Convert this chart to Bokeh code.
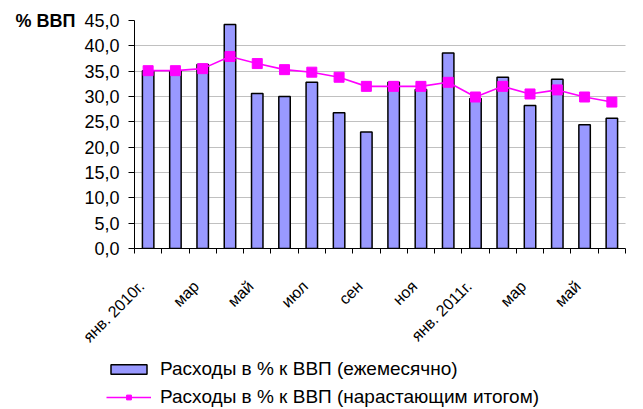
import math
from bokeh.plotting import figure
from bokeh.models import (Range1d, FixedTicker, CustomJSTickFormatter, Legend,
                          LegendItem, LinearAxis, ColumnDataSource)
from bokeh.embed import file_html
from bokeh.resources import INLINE

# ---- data ----
months = ["янв. 2010г.", "фев", "мар", "апр", "май", "июн", "июл", "авг", "сен",
          "окт", "ноя", "дек", "янв. 2011г.", "фев", "мар", "апр", "май", "июн"]
monthly = [35.1, 35.0, 36.3, 44.2, 30.6, 30.0, 32.8, 26.8, 23.0,
           32.8, 31.4, 38.6, 29.6, 33.8, 28.2, 33.4, 24.4, 25.7]
cumulative = [35.1, 35.1, 35.5, 37.9, 36.5, 35.3, 34.8, 33.8, 32.0,
              32.0, 32.0, 32.8, 29.9, 32.0, 30.5, 31.3, 29.9, 28.9]
y_ticks = [0, 5, 10, 15, 20, 25, 30, 35, 40, 45]
series_names = ["Расходы в % к ВВП (ежемесячно)",
                "Расходы в % к ВВП (нарастающим итогом)"]
y_unit = "% ВВП"

FONT = "Liberation Sans"
BAR_FILL = "#9999FF"
LINE_COL = "#FF00FF"
idx = list(range(len(months)))
src = ColumnDataSource(dict(x=idx, m=monthly, c=cumulative))

p = figure(width=627, height=354, output_backend="svg", toolbar_location=None,
           x_range=Range1d(-0.5, len(months) - 0.5), y_range=Range1d(0, 45),
           min_border_left=134, min_border_right=2, min_border_top=20,
           min_border_bottom=105)
p.outline_line_color = None
p.background_fill_color = "white"
p.border_fill_color = "white"

p.vbar(x="x", top="m", width=0.42, source=src, fill_color=BAR_FILL,
       line_color="black", line_width=1.5)
p.line(x="x", y="c", source=src, line_color=LINE_COL, line_width=1.6)
p.scatter(x="x", y="c", source=src, marker="square", size=10,
          fill_color=LINE_COL, line_color=LINE_COL)

# grid
p.xgrid.grid_line_color = None
p.ygrid.grid_line_color = "#808080"
p.ygrid.grid_line_dash = "1 1"
p.ygrid.grid_line_width = 1
p.ygrid.ticker = FixedTicker(ticks=y_ticks)

# y axis
ya = p.yaxis[0]
ya.ticker = FixedTicker(ticks=y_ticks)
ya.formatter = CustomJSTickFormatter(code="return tick.toFixed(1).replace('.', ',');")
ya.major_label_text_font = FONT
ya.major_label_text_font_size = "18px"
ya.major_label_text_color = "black"
ya.major_tick_out = 6
ya.major_tick_in = 0
ya.minor_tick_out = 0
ya.minor_tick_in = 0
ya.major_label_standoff = 9
ya.axis_line_color = "black"

# unit caption as an extra (invisible-line) axis with a single tick at the top
ua = LinearAxis(ticker=FixedTicker(ticks=[y_ticks[-1]]),
                formatter=CustomJSTickFormatter(args=dict(t=y_unit), code="return t;"),
                axis_line_color=None, major_tick_line_color=None,
                minor_tick_line_color=None, major_tick_out=0, major_tick_in=0,
                minor_tick_out=0, minor_tick_in=0, major_label_standoff=6,
                major_label_text_font=FONT, major_label_text_font_style="bold",
                major_label_text_font_size="18px", major_label_text_color="black")
p.add_layout(ua, "left")

# x axis: tick marks at month boundaries, labels for every other month
boundaries = [i - 0.5 for i in range(len(months) + 1)]
label_pos = [i - 0.24 for i in range(0, len(months), 2)]
xa = p.xaxis[0]
xa.ticker = FixedTicker(ticks=label_pos, minor_ticks=boundaries)
xa.formatter = CustomJSTickFormatter(args=dict(labels=months), code="""
const i = Math.round(tick);
return (i >= 0 && i < labels.length) ? labels[i] : '';
""")
xa.major_label_orientation = math.pi / 4
xa.major_label_text_font = FONT
xa.major_label_text_font_size = "16px"
xa.major_label_text_color = "black"
xa.major_tick_out = 0
xa.major_tick_in = 0
xa.major_tick_line_color = None
xa.minor_tick_out = 5
xa.minor_tick_in = 0
xa.minor_tick_line_color = "black"
xa.major_label_standoff = 30
xa.axis_line_color = "black"

# ---- legend in its own strip below the chart (separate root, no frame alignment) ----
lp = figure(width=627, height=55, output_backend="svg", toolbar_location=None,
            x_range=Range1d(0, 1), y_range=Range1d(0, 1),
            x_axis_type=None, y_axis_type=None,
            min_border_left=106, min_border_top=4, min_border_right=0,
            min_border_bottom=0)
lp.outline_line_color = None
lp.grid.grid_line_color = None
lb = lp.vbar(x="x", top="m", width=0.5, source=src, fill_color=BAR_FILL,
             line_color="black", line_width=1.5, visible=False)
ll = lp.line(x="x", y="c", source=src, line_color=LINE_COL, line_width=1.6,
             visible=False)
lm = lp.scatter(x="x", y="c", source=src, marker="square", size=9,
                fill_color=LINE_COL, line_color=LINE_COL, visible=False)
legend = Legend(items=[LegendItem(label=series_names[0], renderers=[lb]),
                       LegendItem(label=series_names[1], renderers=[ll, lm])],
                location="top_left", orientation="vertical",
                border_line_color=None, background_fill_alpha=0,
                inactive_fill_alpha=0,
                padding=0, margin=0, spacing=6, label_height=20,
                glyph_width=45, glyph_height=12, label_standoff=9,
                label_text_font=FONT, label_text_font_size="19px",
                label_text_color="black")
lp.add_layout(legend, "center")

open("out.html", "w").write(file_html([p, lp], INLINE))
